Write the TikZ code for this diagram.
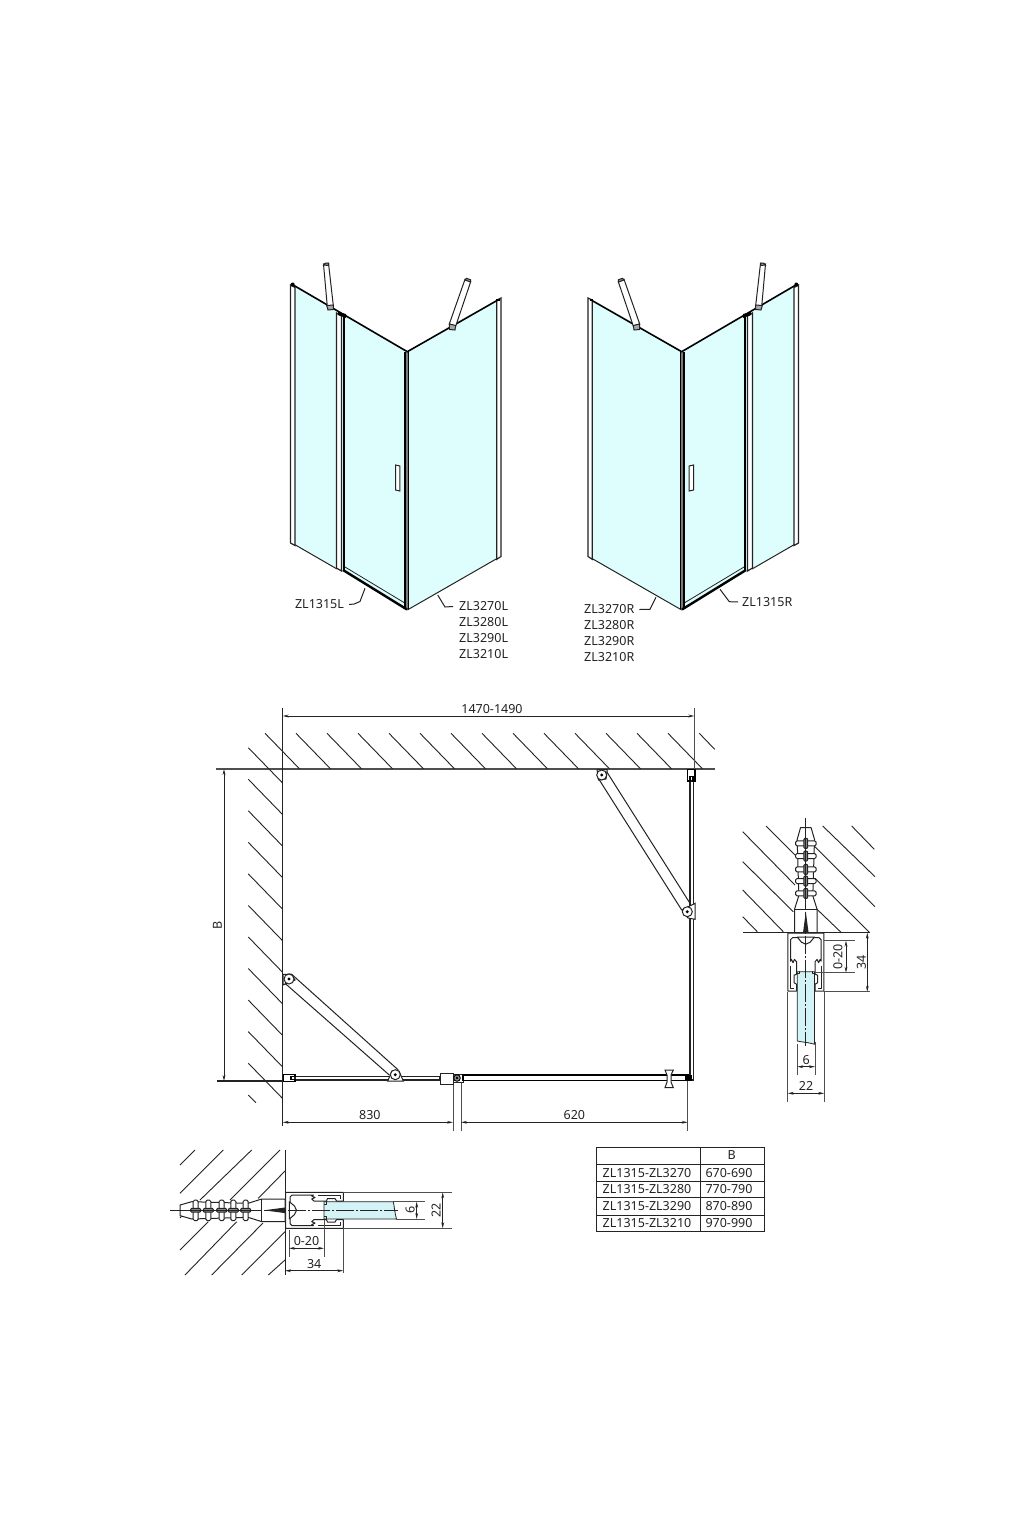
\documentclass[tikz,border=0pt]{standalone}
\usepackage{fontspec}
\setmainfont{Noto Sans}
\usetikzlibrary{calc}
\usetikzlibrary{arrows.meta}
\definecolor{glass}{RGB}{222, 253, 253}
\definecolor{glassb}{RGB}{212, 243, 246}
\definecolor{ink}{RGB}{35, 35, 35}
\tikzset{
	lbl/.style={font=\fontsize{12.5}{13}\selectfont,text=ink,inner sep=0pt},
	thin line/.style={draw=ink,line width=1pt},
	hatch/.style={draw=ink,line width=0.9pt},
	diml/.style={draw=ink,line width=0.8pt,{Stealth[length=6pt,width=2.8pt]}-{Stealth[length=6pt,width=2.8pt]}},
	extl/.style={draw=ink!80,line width=0.9pt},
	heavy/.style={draw=black,line width=1.6pt},
	prof/.style={draw=ink,line width=1pt,line join=round}
}
% one cabin in perspective, the other one is its mirror image
\newcommand{\cabin}{
	\fill[glass] (295,287) -- (405,351) -- (405,608) -- (295,544) -- cycle;
	\fill[glass] (409,351) -- (497,300) -- (497,558) -- (409,609) -- cycle;
	\draw[thin line] (292,543) -- (337,569);
	\draw[thin line] (407.3,610) -- (497,558.5);
	\draw[thin line,line width=1.2pt,fill=white] (290.5,285) -- (295,287.5) -- (295,545.5) -- (290.5,543) -- cycle;
	\draw[thin line,line width=1.2pt,fill=white] (336.5,313) -- (341.5,316) -- (341.5,571) -- (336.5,568) -- cycle;
	\draw[thin line,line width=1.2pt,fill=white] (496.8,300) -- (501,298) -- (501,556.5) -- (496.8,559.3) -- cycle;
	\draw[black,line width=1.8pt] (344,316) -- (344,571);
	\draw[black,line width=1.3pt] (405,352) -- (405,609);
	\draw[black,line width=1.3pt] (408.8,352) -- (408.8,609);
	\draw[ink!60,line width=1.2pt] (407,352) -- (407,609);
	\draw[heavy] (294,285.5) -- (407.3,351.7) -- (497,300.5);
	\draw[black,line width=2.4pt] (343,570) -- (407,609.5);
	\draw[ink,line width=0.8pt] (345,567) -- (404,602.5);
	\fill[black] (292.7,284.5) circle (2);
	\fill[black] (497.5,299.5) +(-1.5,-1) rectangle +(2,1.5);
	\fill[black] (338,312) -- (346,314) -- (346,318) -- (338,315) -- cycle;
	\draw[thin line,fill=white] (395.5,465) -- (399.8,466) -- (399.8,491) -- (395.5,490) -- cycle;
	% wall arms
	\draw[thin line,fill=white] (323.5,264) -- (328.5,263.3) -- (333.3,305.5) -- (327.3,306.5) -- cycle;
	\draw[thin line,fill=ink!50] (323.5,265) -- (325.5,263) -- (328.5,263) -- (328.5,265.5) -- cycle;
	\draw[thin line,fill=ink!40] (326.7,305.5) -- (333.3,305) -- (333.3,309.5) -- (328,310) -- cycle;
	\draw[thin line,fill=white] (465,279.3) -- (470.7,281.7) -- (455.7,326) -- (449.3,324) -- cycle;
	\draw[thin line,fill=ink!50] (465,280) -- (466.5,278.3) -- (470.7,279.8) -- (470.5,282) -- cycle;
	\draw[thin line,fill=ink!40] (449.3,324) -- (455.7,325.5) -- (455,330) -- (449.5,329.5) -- cycle;
}
% wall fixing, wall on the left and profile going to the right
\newcommand{\profhalf}{
	\draw[prof] (285.5,1210.3) -- (285.5,1192.3) -- (343.3,1192.3) -- (343.3,1201) -- (336.5,1201) -- (335,1198.5) -- (327.5,1198.5) -- (326.5,1201) -- (314,1201) -- (311.7,1199) -- (315,1197.5) -- (311.7,1196) -- (313.5,1195) -- (292,1195) -- (290,1197) -- (290,1210.3);
	\draw[prof] (318,1195) -- (340.5,1195) -- (340.5,1198.5);
	\draw[prof] (326,1201) -- (326,1204) -- (323.5,1204);
}
\newcommand{\fixing}{
	\filldraw[fill=glassb,draw=ink,line width=0.8pt] (324,1201.7) -- (393.3,1201.7) .. controls (394.5,1207) and (394.5,1212) .. (396.5,1219) -- (324,1219) -- cycle;
	\profhalf
	\begin{scope}[shift={(0,2420.6)},yscale=-1]
		\profhalf
	\end{scope}
	\draw[prof,fill=white] (289.3,1201.7) -- (294.5,1206) -- (296.5,1210.3) -- (294.5,1214.6) -- (289.3,1219) -- cycle;
	\draw[prof,fill=white] (180,1210.3) -- (180,1205) -- (191.7,1201.7) -- (248,1203.3) -- (261.7,1199) -- (285,1199) -- (285,1221.6) -- (261.7,1221.6) -- (248,1217.3) -- (191.7,1219) -- (180,1215.6) -- cycle;
	\draw[prof] (261.7,1199) -- (261.7,1221.6);
	\fill[ink] (264,1210.3) -- (285,1207.5) -- (285,1213.1) -- cycle;
	\foreach \fx in {195.7,208.3,221.7,233.3,245.7}{
		\draw[prof,fill=white,rounded corners=1.5pt] (\fx-2.5,1200) rectangle (\fx+2.5,1220.7);
		\draw[prof,fill=ink!55,rounded corners=1pt] (\fx-5,1208.4) rectangle (\fx+5,1212.2);
	}
	\draw[ink,line width=0.8pt] (170,1210.3) -- (262,1210.3);
	\draw[ink,line width=0.8pt,dash pattern=on 18pt off 2pt on 2pt off 2pt] (264,1210.3) -- (398,1210.3);
}
\begin{document}
\begin{tikzpicture}[x=1pt,y=-1pt]
	\path[use as bounding box,fill=white] (0,0) rectangle (1024,1536);
	
	\cabin
	\begin{scope}[shift={(1089,0)},xscale=-1]
		\cabin
	\end{scope}
	
	% labels of the two cabins
	\node[lbl] (sl) at(319.5,604.5) {ZL1315L};
	\node[lbl,anchor=west] (gl0) at(459,606.5) {ZL3270L};
	\node[lbl,anchor=west] (gl1) at(459,622.5) {ZL3280L};
	\node[lbl,anchor=west] (gl2) at(459,638.5) {ZL3290L};
	\node[lbl,anchor=west] (gl3) at(459,654.5) {ZL3210L};
	\node[lbl,anchor=west] (gr0) at(584,609.5) {ZL3270R};
	\node[lbl,anchor=west] (gr1) at(584,625.5) {ZL3280R};
	\node[lbl,anchor=west] (gr2) at(584,641.5) {ZL3290R};
	\node[lbl,anchor=west] (gr3) at(584,657.5) {ZL3210R};
	\node[lbl,anchor=west] (sr) at(742,602) {ZL1315R};
	\coordinate (slend) at(365,588.3);
	\coordinate (glend) at(437.7,595);
	\coordinate (grend) at(656,597.3);
	\coordinate (srend) at(720,589.3);
	\draw[thin line] (sl.east)++(5,0) -- ++(5,-0.5) -- (360,601.5) -- (slend);
	\draw[thin line] (gl0.west)++(-6,0) -- (445,607) -- (glend);
	\draw[thin line] (gr0.east)++(5,0) -- (650,609.3) -- (grend);
	\draw[thin line] (sr.west)++(-4,0) -- (729.3,601.7) -- (srend);
	
	% plan: wall lines and hatching
	\draw[hatch,line width=1.4pt,draw=ink!80] (215.7,769) -- (714.7,769);
	\draw[hatch,line width=1.1pt] (282.7,708) -- (282.7,1126);
	\draw[hatch,line width=1.1pt] (217,1081) -- (294,1081);
	\foreach \k in {0,...,13}{
		\draw[hatch] ({265+31*\k},733.3) -- ({299.7+31*\k},769);
	}
	\draw[hatch] (699.3,733.3) -- (714.7,749.3);
	\foreach \k in {0,...,10}{
		\draw[hatch] (248.3,{747.7+31.55*\k}) -- (282.3,{782.7+31.55*\k});
	}
	\draw[hatch] (248.3,1095) -- (256,1102.7);
	
	% plan: dimensions
	\coordinate (wtop) at(282.7,716);
	\coordinate (etop) at(694.3,716);
	\coordinate (btop) at(224,769);
	\coordinate (bbot) at(224,1081);
	\coordinate (a1) at(282.7,1122.3);
	\coordinate (a2) at(453,1122.3);
	\coordinate (b1) at(461,1122.3);
	\coordinate (b2) at(687.7,1122.3);
	\draw[extl] (694.3,708) -- (694.3,772);
	\draw[extl] (453,1083) -- (453,1131);
	\draw[extl] (461,1082) -- (461,1131);
	\draw[extl] (687.7,1080) -- (687.7,1131);
	\draw[diml] (wtop) -- (etop) node[lbl,midway,yshift=7pt,xshift=3.5pt] (dw) {1470-1490};
	\draw[diml] (btop) -- (bbot) node[lbl,midway,rotate=90,xshift=0pt,yshift=6.5pt] (db) {B};
	\draw[diml] (a1) -- (a2) node[lbl,midway,yshift=7.5pt,xshift=2pt] (d830) {830};
	\draw[diml] (b1) -- (b2) node[lbl,midway,yshift=7.5pt] (d620) {620};
	
	% plan: panels
	\draw[thin line,line width=1.2pt,fill=white] (295,1076.5) rectangle (440,1080);
	\draw[black,line width=1.2pt,fill=white] (283.5,1074.5) -- (295,1074.5) -- (295,1076.5) -- (291,1076.5) -- (291,1079.5) -- (295,1079.5) -- (295,1081.5) -- (283.5,1081.5) -- cycle;
	\draw[thin line,fill=white] (440,1073.3) rectangle (453.3,1084);
	\draw[thin line,fill=white] (453.3,1074) rectangle (463,1082);
	\draw[black,line width=0.9pt,fill=ink!50] (457,1078) circle (3.3);
	\fill[black] (457,1078) circle (1.3);
	\draw[black,line width=1.4pt,fill=white] (463,1075) rectangle (690,1080.5);
	\draw[thin line,line width=1.2pt,fill=white] (690,781) rectangle (693.3,1080);
	\draw[thin line,fill=white] (665,1070) -- (673.3,1070) -- (671,1075) -- (671,1082) -- (673.3,1087.7) -- (665,1087.7) -- (667,1082) -- (667,1075) -- cycle;
	\fill[black] (685,1075) rectangle (692,1080.5);
	\draw[black,line width=1.3pt,fill=white] (687.3,769.5) -- (695,769.5) -- (695,781) -- (693,781) -- (693,776.5) -- (690,776.5) -- (690,781) -- (687.3,781) -- cycle;
	
	% plan: wall arms
	\coordinate (pl1) at(289,979);
	\coordinate (pl2) at(395.3,1074.7);
	\coordinate (pr1) at(601.7,775);
	\coordinate (pr2) at(687.3,911.7);
	\draw[thin line,fill=white] (283,974.5) -- (291,974) -- (295,980) -- (283,985) -- cycle;
	\draw[thin line,fill=white] (387.7,1081) -- (403.3,1081) -- (399,1071) -- (392,1071) -- cycle;
	\draw[thin line,fill=white] (597,769.5) -- (607.3,769.5) -- (606,779) -- (598.5,780) -- cycle;
	\draw[thin line,fill=white] (695,903.3) -- (695,919.3) -- (688,918) -- (682,910) -- cycle;
	\draw[thin line] (291.7,974.3) -- (398.3,1070);
	\draw[thin line] (285,983.3) -- (389.3,1075);
	\draw[thin line] (606.7,771.7) -- (690,903.3);
	\draw[thin line] (598.3,778.3) -- (681.7,910);
	\foreach \p in {pl1,pl2,pr1,pr2}{
		\draw[thin line,fill=white] (\p) circle (5);
		\fill[black] (\p) circle (1.6);
	}
	
	% fixing below the plan
	\draw[hatch] (285,1150) -- (285,1275);
	\foreach \ax/\ay/\bx/\by in {180/1165/195/1150,180/1193.3/223.3/1150,200/1200/251.7/1150,230/1200/280/1150,258.3/1198.3/285/1171,180/1218/184/1213,180/1250/208.3/1221.7,185/1275/236.7/1221.7,211.7/1275/263/1223,241.7/1275/285/1231.7,268.3/1275/285/1260}{
		\draw[hatch] (\ax,\ay) -- (\bx,\by);
	}
	\fixing
	\coordinate (f0a) at(289,1248.3);
	\coordinate (f0b) at(324,1248.3);
	\coordinate (f3a) at(285,1270.7);
	\coordinate (f3b) at(343.3,1270.7);
	\coordinate (f6a) at(416.7,1201.7);
	\coordinate (f6b) at(416.7,1219);
	\coordinate (f2a) at(442.7,1192.3);
	\coordinate (f2b) at(442.7,1228.3);
	\draw[extl] (289,1230) -- (289,1257);
	\draw[extl] (324,1220) -- (324,1257);
	\draw[extl] (343.3,1229) -- (343.3,1273);
	\draw[extl] (393,1201.7) -- (425,1201.7);
	\draw[extl] (396,1219) -- (425,1219);
	\draw[extl] (343.3,1192.3) -- (451.7,1192.3);
	\draw[extl] (343.3,1228.3) -- (451.7,1228.3);
	\draw[diml] (f0a) -- (f0b) node[lbl,midway,yshift=7.5pt] (t020) {0-20};
	\draw[diml] (f3a) -- (f3b) node[lbl,midway,yshift=6.5pt] (t34) {34};
	\draw[diml] (f6a) -- (f6b) node[lbl,midway,rotate=90,yshift=6.5pt] (t6) {6};
	\draw[diml] (f2a) -- (f2b) node[lbl,midway,rotate=90,yshift=6.5pt] (t22) {22};
	
	% fixing on the right
	\draw[hatch] (743,932.7) -- (870,932.7);
	\foreach \ax/\ay/\bx/\by in {742.7/831.7/795/885,766/826/795/855,742.7/861.7/793.3/911.7,742.7/890/783.3/931.7,742.7/916.7/757.3/931.7,815/846.7/875/906.7,815/878.3/869.3/932.3,816/908.3/841/932.3,822.7/826/875/876.7,851.7/826/874.3/849.3}{
		\draw[hatch] (\ax,\ay) -- (\bx,\by);
	}
	\begin{scope}[cm={0,-1,-1,0,(-404.5pt,-647.7pt)}]
		\fixing
	\end{scope}
	\coordinate (r0a) at(846,940.7);
	\coordinate (r0b) at(846,972.7);
	\coordinate (r3a) at(867.3,932.7);
	\coordinate (r3b) at(867.3,991.7);
	\coordinate (r6a) at(797.3,1066.7);
	\coordinate (r6b) at(815,1066.7);
	\coordinate (r2a) at(787.7,1093.3);
	\coordinate (r2b) at(824.3,1093.3);
	\draw[extl] (824.3,940.7) -- (855,940.7);
	\draw[extl] (815,972.7) -- (855,972.7);
	\draw[extl] (824.3,991.7) -- (870,991.7);
	\draw[extl] (797.3,1044) -- (797.3,1075);
	\draw[extl] (815,1042) -- (815,1075);
	\draw[extl] (787.7,991.7) -- (787.7,1101.7);
	\draw[extl] (824.3,991.7) -- (824.3,1101.7);
	\draw[diml] (r0a) -- (r0b) node[lbl,midway,rotate=90,xshift=0pt,yshift=8pt] (s020) {0-20};
	\draw[diml] (r3a) -- (r3b) node[lbl,midway,rotate=90,yshift=6pt] (s34) {34};
	\draw[diml] (r6a) -- (r6b) node[lbl,midway,yshift=7pt] (s6) {6};
	\draw[diml] (r2a) -- (r2b) node[lbl,midway,yshift=7pt] (s22) {22};
	
	% table
	\draw[thin line] (596.7,1147.3) rectangle (764.3,1231.7);
	\draw[thin line] (700,1147.3) -- (700,1231.7);
	\foreach \ly in {1164.3,1181,1197.7,1215}{
		\draw[thin line] (596.7,\ly) -- (764.3,\ly);
	}
	\node[lbl] (thb) at(731.7,1155.5) {B};
	\foreach \n/\ty/\ga/\ba in {0/1172.7/3270/670-690,1/1189.5/3280/770-790,2/1206.5/3290/870-890,3/1223.5/3210/970-990}{
		\node[lbl,anchor=west] (ta\n) at(602.5,\ty) {ZL1315-ZL\ga};
		\node[lbl] (tb\n) at(729,\ty) {\ba};
	}
\end{tikzpicture}
\end{document}
